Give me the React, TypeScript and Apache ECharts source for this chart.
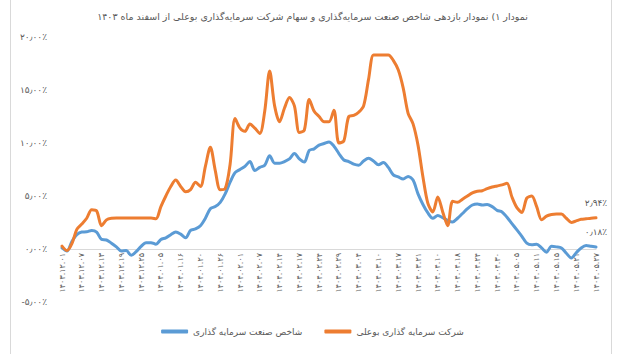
import React, { useEffect, useRef } from "react";
import * as echarts from "echarts";

const titleText =
  "نمودار ۱) نمودار بازدهی شاخص صنعت سرمایه‌گذاری و سهام شرکت سرمایه‌گذاری بوعلی از اسفند ماه ۱۴۰۳";

const seriesNames = ["شاخص صنعت سرمایه گذاری", "شرکت سرمایه گذاری بوعلی"];

const tickLabels = [
  "۱۴۰۳.۱۲.۰۱", "۱۴۰۳.۱۲.۰۷", "۱۴۰۳.۱۲.۱۳", "۱۴۰۳.۱۲.۱۹", "۱۴۰۳.۱۲.۲۵",
  "۱۴۰۴.۰۱.۰۵", "۱۴۰۴.۰۱.۱۶", "۱۴۰۴.۰۱.۲۰", "۱۴۰۴.۰۱.۲۶", "۱۴۰۴.۰۲.۰۱",
  "۱۴۰۴.۰۲.۰۷", "۱۴۰۴.۰۲.۱۴", "۱۴۰۴.۰۲.۱۷", "۱۴۰۴.۰۲.۲۴", "۱۴۰۴.۰۲.۲۹",
  "۱۴۰۴.۰۳.۰۴", "۱۴۰۴.۰۳.۱۰", "۱۴۰۴.۰۳.۱۷", "۱۴۰۴.۰۳.۲۱", "۱۴۰۴.۰۴.۱۰",
  "۱۴۰۴.۰۴.۱۸", "۱۴۰۴.۰۴.۲۴", "۱۴۰۴.۰۴.۳۰", "۱۴۰۴.۰۵.۰۵", "۱۴۰۴.۰۵.۱۱",
  "۱۴۰۴.۰۵.۱۵", "۱۴۰۴.۰۵.۲۱", "۱۴۰۴.۰۵.۲۷",
];

const yTickLabels = ["-۵٫۰۰٪", "۰٫۰۰٪", "۵٫۰۰٪", "۱۰٫۰۰٪", "۱۵٫۰۰٪", "۲۰٫۰۰٪"];

const endLabels = ["۰٫۱۸٪", "۲٫۹۴٪"];

// Industry index returns (%)
const industryValues = [
  0.1, -0.2, 0.7, 1.35, 1.6, 1.62, 1.75, 1.6, 0.9, 0.85,
  0.55, 0.2, -0.2, -0.15, -0.6, -0.25, 0.25, 0.6, 0.6, 0.45,
  0.9, 1.05, 1.35, 1.6, 1.4, 1.05, 1.75, 1.9, 2.2, 2.9,
  3.8, 4.0, 4.4, 5.2, 6.3, 7.2, 7.5, 7.8, 8.25, 7.4,
  7.7, 7.9, 8.8, 8.1, 8.1, 8.25, 8.5, 9.0, 8.5, 8.2,
  9.3, 9.45, 9.8, 9.95, 10.1, 9.7, 9.0, 8.4, 8.25, 8.0,
  7.9, 8.3, 8.55, 8.3, 7.95, 8.15, 7.7, 7.0, 6.8, 6.6,
  6.85, 6.5, 5.2, 4.2, 3.4, 2.9, 3.15, 2.95, 2.7, 2.55,
  2.9, 3.35, 3.8, 4.15, 4.25, 4.15, 4.2, 4.0, 3.65, 3.5,
  3.0, 2.4, 1.8, 1.2, 0.55, 0.4, 0.45, 0.1, -0.3, 0.25,
  0.2, 0.1, -0.4, -0.85, -0.35, 0.1, 0.33, 0.25, 0.18,
];

// Bou Ali Investment Co. returns (%)
const companyValues = [
  0.27, -0.15, 0.5, 1.85, 2.35, 2.9, 3.7, 3.6, 2.2, 2.75,
  2.9, 2.92, 2.92, 2.92, 2.92, 2.92, 2.92, 2.92, 2.92, 2.85,
  4.0, 5.0, 5.9, 6.5, 5.9, 5.4, 5.6, 6.3, 5.9, 7.8,
  9.6, 7.4, 5.6, 5.7, 8.0, 12.3, 11.4, 11.1, 11.8, 11.4,
  10.9, 13.0, 16.8, 13.5, 12.0, 13.3, 14.3, 13.5, 11.0, 11.2,
  14.1, 13.0, 12.5, 12.0, 12.0, 13.1, 10.0, 10.2, 12.5, 12.6,
  12.9, 13.5, 16.0, 18.3, 18.3, 18.3, 18.3, 17.8, 16.9, 15.2,
  12.8, 11.8, 9.8, 6.8, 4.3, 3.5, 4.9, 3.5, 2.2, 4.5,
  4.4, 4.7, 5.0, 5.3, 5.45, 5.5, 5.7, 5.85, 5.95, 6.05,
  6.2, 4.9, 3.9, 3.45, 4.8, 5.0, 4.0, 2.75, 3.1, 3.25,
  3.3, 3.3, 2.9, 2.5, 2.65, 2.8, 2.85, 2.9, 2.94,
];

const POINTS_PER_TICK = 4;
const Y_MIN = -5;
const Y_MAX = 20;
const GRID_TOP = 37;
const GRID_BOTTOM = 52;
const CHART_H = 354;

export default function App() {
  const ref = useRef<HTMLDivElement>(null);

  useEffect(() => {
    if (!ref.current) return;
    const chart = echarts.init(ref.current, undefined, { renderer: "svg" });
    const n = industryValues.length;
    const categories = Array.from({ length: n }, (_, i) =>
      i % POINTS_PER_TICK === 0 ? tickLabels[i / POINTS_PER_TICK] : ""
    );
    const font = "DejaVu Sans, Noto Sans, sans-serif";
    const textColor = "#595959";
    const last = n - 1;
    const gridH = CHART_H - GRID_TOP - GRID_BOTTOM;
    const zeroOffset = (gridH * (0 - Y_MIN)) / (Y_MAX - Y_MIN);

    const mkSeries = (name: string, data: number[], color: string, label: string) => ({
      name,
      type: "line",
      data,
      smooth: 0.3,
      showSymbol: false,
      symbol: "none",
      lineStyle: { color, width: 3, cap: "round", join: "round" },
      itemStyle: { color },
      markPoint: {
        symbol: "circle",
        symbolSize: 1,
        itemStyle: { color: "rgba(0,0,0,0)" },
        label: {
          show: true,
          position: "top",
          distance: 10,
          formatter: label,
          color: textColor,
          fontSize: 9,
          fontFamily: font,
        },
        data: [{ coord: [last, data[last]] }],
      },
    });

    chart.setOption({
      animation: false,
      backgroundColor: "#ffffff",
      title: {
        text: titleText,
        left: "center",
        top: 6,
        textStyle: { fontSize: 9.5, fontWeight: "normal", color: textColor, fontFamily: font },
      },
      legend: {
        top: 322,
        left: "center",
        itemWidth: 27,
        itemHeight: 4,
        itemGap: 22,
        icon: "roundRect",
        textStyle: { fontSize: 9, color: textColor, fontFamily: font },
        data: [seriesNames[0], seriesNames[1]],
      },
      grid: { left: 62, right: 29, top: GRID_TOP, bottom: GRID_BOTTOM, containLabel: false },
      xAxis: {
        type: "category",
        data: categories,
        boundaryGap: false,
        position: "bottom",
        offset: -zeroOffset,
        axisLine: { onZero: false, lineStyle: { color: "#d9d9d9", width: 1 } },
        axisTick: { show: false },
        splitLine: { show: false },
        axisLabel: {
          interval: POINTS_PER_TICK - 1,
          rotate: 90,
          fontSize: 8,
          color: textColor,
          fontFamily: font,
          margin: 4,
        },
      },
      yAxis: {
        type: "value",
        min: Y_MIN,
        max: Y_MAX,
        interval: 5,
        axisLine: { show: false },
        axisTick: { show: false },
        splitLine: { show: false },
        axisLabel: {
          margin: 15,
          fontSize: 9,
          color: textColor,
          fontFamily: font,
          formatter: (v: number) => yTickLabels[Math.round((v - Y_MIN) / 5)] ?? "",
        },
      },
      graphic: [
        {
          type: "rect",
          shape: { x: 10.5, y: -5, width: 601, height: 365 },
          style: { fill: "none", stroke: "#d9d9d9", lineWidth: 1 },
          silent: true,
        },
      ],
      series: [
        mkSeries(seriesNames[0], industryValues, "#5B9BD5", endLabels[0]),
        mkSeries(seriesNames[1], companyValues, "#ED7D31", endLabels[1]),
      ],
    });

    return () => chart.dispose();
  }, []);

  return (
    <div
      ref={ref}
      style={{ position: "absolute", left: 0, top: 0, width: 625, height: 354 }}
    />
  );
}
